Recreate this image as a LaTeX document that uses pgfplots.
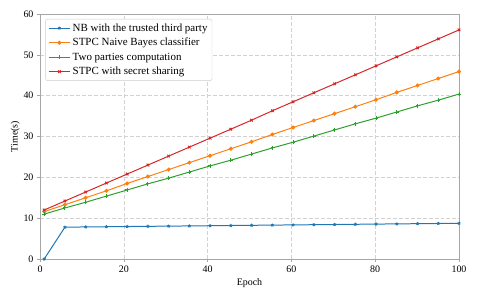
\documentclass[border=0pt]{standalone}
\usepackage{fontspec}
\setmainfont{Liberation Serif}
\usepackage{pgfplots}
\pgfplotsset{compat=1.18}
\definecolor{tabblue}{HTML}{1F77B4}
\definecolor{taborange}{HTML}{FF7F0E}
\definecolor{tabgreen}{HTML}{2CA02C}
\definecolor{tabred}{HTML}{D62728}
\begin{document}
\begin{tikzpicture}
\useasboundingbox (0,0) rectangle (480bp,295bp);
\begin{axis}[
  at={(40bp,36bp)}, anchor=south west,
  scale only axis, width=419bp, height=245bp,
  xmin=0, xmax=100, ymin=0, ymax=60,
  xtick={0,20,40,60,80,100}, ytick={0,10,20,30,40,50,60},
  /pgf/number format/assume math mode=true,
  tick label style={font=\fontsize{10}{12}\selectfont},
  label style={font=\fontsize{10}{12}\selectfont},
  xlabel={Epoch}, ylabel={Time(s)},
  xlabel style={yshift=0bp},
  ylabel style={yshift=-3bp},
  grid=major,
  grid style={dash pattern=on 4pt off 2pt, gray!35, line width=0.5pt},
  axis line style={gray!70, line width=0.7pt},
  major tick length=3bp,
  tick style={gray!70, line width=0.6pt},
  tick align=outside,
  xtick pos=bottom, ytick pos=left,
  legend cell align=left,
  legend style={font=\fontsize{11}{13}\selectfont, draw=gray!40, rounded corners=2pt, at={(0.013,0.98)}, anchor=north west, row sep=1.5pt, inner sep=2.5pt},
  legend image code/.code={\draw[mark repeat=2,mark phase=2] plot coordinates {(0cm,0cm) (0.38cm,0cm) (0.76cm,0cm)};},
  every axis plot/.append style={line width=1pt},
]
\addplot[tabblue, mark=star, mark size=1.6pt] coordinates {
(1,0) (5.95,7.8) (10.9,7.85) (15.85,7.9) (20.8,7.95) (25.75,8.0) (30.7,8.05) (35.65,8.1) (40.6,8.15) (45.55,8.2) (50.5,8.25) (55.45,8.3) (60.4,8.35) (65.35,8.4) (70.3,8.45) (75.25,8.5) (80.2,8.55) (85.15,8.6) (90.1,8.65) (95.05,8.7) (100,8.75)};
\addlegendentry{NB with the trusted third party}
\addplot[taborange, mark=*, mark size=1.5pt] coordinates {
(1,11.6) (5.95,13.3) (10.9,15.0) (15.85,16.7) (20.8,18.5) (25.75,20.2) (30.7,21.9) (35.65,23.6) (40.6,25.3) (45.55,27.0) (50.5,28.7) (55.45,30.5) (60.4,32.2) (65.35,33.9) (70.3,35.6) (75.25,37.3) (80.2,39.0) (85.15,40.8) (90.1,42.5) (95.05,44.2) (100,45.9)};
\addlegendentry{STPC Naive Bayes classifier}
\addplot[tabgreen, mark=+, mark size=1.8pt] coordinates {
(1,11.0) (5.95,12.5) (10.9,13.9) (15.85,15.4) (20.8,16.9) (25.75,18.4) (30.7,19.8) (35.65,21.3) (40.6,22.8) (45.55,24.2) (50.5,25.7) (55.45,27.2) (60.4,28.6) (65.35,30.1) (70.3,31.6) (75.25,33.1) (80.2,34.5) (85.15,36.0) (90.1,37.5) (95.05,38.9) (100,40.4)};
\addlegendentry{Two parties computation}
\addplot[tabred, mark=x, mark size=1.8pt] coordinates {
(1,12.0) (5.95,14.2) (10.9,16.4) (15.85,18.6) (20.8,20.8) (25.75,23.0) (30.7,25.2) (35.65,27.4) (40.6,29.6) (45.55,31.8) (50.5,34.0) (55.45,36.3) (60.4,38.5) (65.35,40.7) (70.3,42.9) (75.25,45.1) (80.2,47.3) (85.15,49.5) (90.1,51.7) (95.05,53.9) (100,56.1)};
\addlegendentry{STPC with secret sharing}
\end{axis}
\end{tikzpicture}
\end{document}
